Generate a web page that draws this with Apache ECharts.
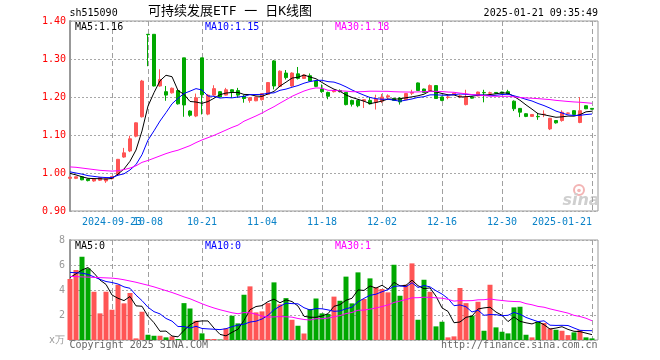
<!DOCTYPE html>
<html><head><meta charset="utf-8">
<script src="https://cdn.jsdelivr.net/npm/echarts@6/dist/echarts.min.js"></script>
<style>html,body{margin:0;padding:0;background:#fff}#c{width:660px;height:360px}</style>
</head><body><div id="c"></div>
<script>
// ---- data ----
const dates = ['2024-09-10','2024-09-11','2024-09-12','2024-09-13','2024-09-18','2024-09-19','2024-09-20','2024-09-23','2024-09-24','2024-09-25','2024-09-26','2024-09-27','2024-09-30',
'2024-10-08','2024-10-09','2024-10-10','2024-10-11','2024-10-14','2024-10-15','2024-10-16','2024-10-17','2024-10-18','2024-10-21','2024-10-22','2024-10-23','2024-10-24','2024-10-25','2024-10-28','2024-10-29','2024-10-30','2024-10-31',
'2024-11-01','2024-11-04','2024-11-05','2024-11-06','2024-11-07','2024-11-08','2024-11-11','2024-11-12','2024-11-13','2024-11-14','2024-11-15','2024-11-18','2024-11-19','2024-11-20','2024-11-21','2024-11-22','2024-11-25','2024-11-26','2024-11-27','2024-11-28','2024-11-29',
'2024-12-02','2024-12-03','2024-12-04','2024-12-05','2024-12-06','2024-12-09','2024-12-10','2024-12-11','2024-12-12','2024-12-13','2024-12-16','2024-12-17','2024-12-18','2024-12-19','2024-12-20','2024-12-23','2024-12-24','2024-12-25','2024-12-26','2024-12-27','2024-12-30','2024-12-31',
'2025-01-02','2025-01-03','2025-01-06','2025-01-07','2025-01-08','2025-01-09','2025-01-10','2025-01-13','2025-01-14','2025-01-15','2025-01-16','2025-01-17','2025-01-20','2025-01-21'];

const openP = [
0.986,0.986,0.990,0.984,0.979,0.981,0.979,0.985,0.996,1.042,
1.058,1.097,1.148,1.365,1.365,1.229,1.214,1.211,1.217,1.303,
1.163,1.150,1.303,1.155,1.205,1.214,1.205,1.219,1.217,1.202,
1.191,1.190,1.193,1.207,1.295,1.228,1.263,1.229,1.261,1.249,
1.256,1.242,1.221,1.212,1.214,1.217,1.212,1.191,1.191,1.190,
1.191,1.186,1.189,1.200,1.196,1.197,1.193,1.210,1.237,1.221,
1.216,1.230,1.200,1.199,1.207,1.201,1.180,1.200,1.203,1.212,
1.210,1.212,1.213,1.214,1.189,1.170,1.156,1.149,1.149,1.154,
1.116,1.138,1.138,1.157,1.164,1.133,1.177,1.170];
const closeP = [
0.989,0.990,0.982,0.980,0.985,0.988,0.985,0.991,1.036,1.053,
1.090,1.132,1.242,1.364,1.229,1.246,1.205,1.223,1.182,1.179,
1.152,1.198,1.206,1.205,1.222,1.200,1.219,1.214,1.205,1.196,
1.198,1.200,1.209,1.238,1.229,1.268,1.251,1.263,1.249,1.258,
1.242,1.228,1.214,1.202,1.217,1.214,1.180,1.181,1.177,1.193,
1.182,1.195,1.200,1.203,1.191,1.187,1.209,1.212,1.217,1.212,
1.230,1.196,1.191,1.200,1.210,1.203,1.200,1.197,1.213,1.211,
1.211,1.210,1.210,1.208,1.169,1.160,1.149,1.154,1.148,1.155,
1.144,1.132,1.160,1.158,1.154,1.164,1.169,1.168];
const lowP = [
0.984,0.984,0.981,0.978,0.977,0.979,0.974,0.983,0.994,1.040,
1.055,1.094,1.146,1.281,1.228,1.227,1.190,1.209,1.180,1.148,
1.148,1.147,1.154,1.152,1.203,1.199,1.204,1.198,1.198,1.185,
1.185,1.189,1.191,1.206,1.220,1.226,1.246,1.227,1.246,1.248,
1.241,1.226,1.211,1.194,1.212,1.212,1.178,1.175,1.173,1.171,
1.180,1.167,1.184,1.195,1.190,1.180,1.192,1.205,1.216,1.211,
1.215,1.195,1.189,1.194,1.206,1.197,1.178,1.196,1.202,1.186,
1.206,1.208,1.209,1.207,1.163,1.147,1.147,1.148,1.140,1.147,
1.113,1.130,1.135,1.156,1.153,1.131,1.168,1.167];
const highP = [
0.990,0.991,0.991,0.985,0.986,0.989,0.986,0.992,1.037,1.066,
1.098,1.133,1.245,1.365,1.365,1.273,1.229,1.225,1.219,1.303,
1.165,1.209,1.303,1.208,1.231,1.215,1.224,1.220,1.224,1.205,
1.200,1.201,1.210,1.239,1.297,1.270,1.271,1.265,1.279,1.260,
1.262,1.244,1.233,1.214,1.219,1.220,1.213,1.193,1.193,1.194,
1.200,1.206,1.208,1.207,1.198,1.200,1.210,1.219,1.238,1.222,
1.233,1.231,1.201,1.207,1.211,1.206,1.219,1.201,1.214,1.219,
1.214,1.213,1.214,1.219,1.191,1.171,1.157,1.155,1.158,1.165,
1.145,1.139,1.165,1.159,1.165,1.200,1.178,1.171];
// volume, unit: 万
const volume = [
4.88,5.60,6.66,5.73,3.86,2.13,3.86,2.42,4.42,2.93,
3.76,0.13,2.26,0.42,0.34,0.34,0.21,0.29,0.08,2.95,
2.52,1.54,0.53,0.08,0.08,0.03,0.93,1.94,1.33,3.62,
4.29,2.21,2.29,2.95,4.61,2.85,3.35,1.62,1.14,0.52,
2.48,3.32,2.13,2.08,3.47,3.14,5.07,2.93,5.41,3.28,
4.93,4.21,4.08,3.81,6.02,3.54,4.42,6.13,1.62,4.82,
3.86,1.09,1.46,0.21,0.29,4.16,2.95,1.94,3.06,0.74,
4.42,1.01,0.66,0.53,2.61,2.66,0.42,0.21,1.46,1.36,
0.93,0.82,0.74,0.39,0.61,0.80,0.21,0.13];

// moving-average values at the start of the window (history before the first bar)
const ma5Head  = [0.999,0.995,0.990,0.986];
const ma10Head = [1.003,1.000,0.997,0.993,0.991,0.989,0.988,0.988,0.994];
const ma30Head = [1.016,1.015,1.013,1.011,1.009,1.007,1.006,1.005,1.006,1.009,1.013,1.019,1.028,1.033,1.039,1.045,1.051,1.056,1.060,1.066,1.072,1.080,1.087,1.093,1.099,1.106,1.113,1.120,1.126];
const vma5Head  = [5.00,5.30,5.60,5.80];
const vma10Head = [5.41,5.38,5.35,5.25,5.05,4.85,4.68,4.60,4.48];
const vma30Head = [5.09,5.07,5.05,5.03,5.01,4.99,4.97,4.95,4.90,4.82,4.72,4.62,4.50,4.38,4.25,4.10,3.95,3.80,3.63,3.45,3.30,3.10,2.90,2.72,2.56,2.42,2.30,2.18,2.10];

const tickDates  = ['2024-09-23','2024-10-08','2024-10-21','2024-11-04','2024-11-18','2024-12-02','2024-12-16','2024-12-30','2025-01-21'];
const tickLabels = ['2024-09-23','10-08','10-21','11-04','11-18','12-02','12-16','12-30','2025-01-21'];
const priceTicks = [0.9, 1.4, 0.1];
const volTicks = [0, 8, 2];
const legendMain = ['MA5:1.16','MA10:1.15','MA30:1.18'];
const legendVol  = ['MA5:0','MA10:0','MA30:1'];

// ---- chart ----
const MONO = '"DejaVu Sans Mono", monospace';
const RED = '#ff5555', GREEN = '#00a800';
const DATECOL = '#0a82c8';
const cats = dates.concat(['']);

function movingAvg(vals, n, head) {
  return vals.map((v, i) => {
    if (i < n - 1) return head[i];
    let s = 0; for (let k = i - n + 1; k <= i; k++) s += vals[k];
    return +(s / n).toFixed(4);
  });
}
const isTick = (idx, val) => tickDates.indexOf(val) >= 0;
const isLaterTick = (idx, val) => tickDates.indexOf(val) > 0;
const isFirstTick = (idx, val) => val === tickDates[0];

const candleData = dates.map((d, i) => {
  const up = closeP[i] > openP[i];
  const c = up ? RED : GREEN;
  return { value: [openP[i], closeP[i], lowP[i], highP[i]],
           itemStyle: { color: c, color0: c, borderColor: c, borderColor0: c } };
});
const volData = dates.map((d, i) => ({ value: volume[i],
  itemStyle: { color: closeP[i] > openP[i] ? RED : GREEN } }));

function lineS(name, data, color, xi, yi) {
  return { name, type: 'line', data, xAxisIndex: xi, yAxisIndex: yi, symbol: 'none',
    lineStyle: { color, width: 1 }, silent: true, z: 3 };
}
function txt(text, x, y, align, color, font) {
  return { type: 'text', x, y, silent: true, z: 10,
    style: { text, fill: color, font, textAlign: align, textVerticalAlign: 'middle' } };
}

const splitX = { show: true, interval: isTick, lineStyle: { color: '#a0a0a0', type: [5, 3], width: 1 } };
const labelBase = { hideOverlap: false, color: DATECOL, fontSize: 10, fontFamily: MONO, margin: 5, lineHeight: 12 };
const option = {
  animation: false,
  backgroundColor: '#ffffff',
  textStyle: { fontFamily: MONO },
  grid: [
    { left: 70, right: 62, top: 21, height: 190, show: true, borderColor: '#999', borderWidth: 1, backgroundColor: 'rgba(0,0,0,0)', outerBoundsMode: 'none' },
    { left: 70, right: 62, top: 240, height: 100, show: true, borderColor: '#999', borderWidth: 1, backgroundColor: 'rgba(0,0,0,0)', outerBoundsMode: 'none' }
  ],
  xAxis: [
    { type: 'category', gridIndex: 0, data: cats, boundaryGap: false, position: 'bottom', offset: 0,
      axisLine: { show: false }, axisTick: { show: false },
      axisLabel: Object.assign({}, labelBase, { interval: isLaterTick,
        formatter: (v) => {
          const k = tickDates.indexOf(v);
          if (k <= 0) return '';
          if (k === tickDates.length - 1) return '{r|' + tickLabels[k] + '}';
          return tickLabels[k];
        },
        rich: { r: { color: DATECOL, fontSize: 10, fontFamily: MONO, lineHeight: 12, padding: [0, 60, 0, 0] } } }),
      splitLine: splitX },
    { type: 'category', gridIndex: 1, data: cats, boundaryGap: false,
      axisLine: { show: false }, axisTick: { show: false }, axisLabel: { show: false },
      splitLine: splitX },
    // second bottom axis of the price grid, carrying only the first (overlapping) date label
    { type: 'category', gridIndex: 0, data: cats, boundaryGap: false, position: 'bottom', offset: 0,
      axisLine: { show: false }, axisTick: { show: false }, splitLine: { show: false },
      axisLabel: Object.assign({}, labelBase, { interval: isFirstTick,
        formatter: (v) => v === tickDates[0] ? tickLabels[0] : '' }) }
  ],
  yAxis: [
    { type: 'value', gridIndex: 0, min: priceTicks[0], max: priceTicks[1], interval: priceTicks[2],
      axisLine: { show: true, lineStyle: { color: '#999', width: 2 } }, axisTick: { show: false },
      axisLabel: { color: '#ff0000', fontSize: 10, fontFamily: MONO, margin: 4, formatter: v => v.toFixed(2) },
      splitLine: { show: true, lineStyle: { color: '#a8a8a8', type: [2, 2], width: 1 } } },
    { type: 'value', gridIndex: 1, min: volTicks[0], max: volTicks[1], interval: volTicks[2],
      axisLine: { show: true, lineStyle: { color: '#999', width: 2 } }, axisTick: { show: false },
      axisLabel: { color: '#999', fontSize: 10, fontFamily: MONO, margin: 5, formatter: v => v === 0 ? 'x万' : String(v) },
      splitLine: { show: true, lineStyle: { color: '#a8a8a8', type: [2, 2], width: 1 } } }
  ],
  series: [
    { name: 'K', type: 'candlestick', xAxisIndex: 0, yAxisIndex: 0, data: candleData, barWidth: 4, z: 2,
      itemStyle: { borderWidth: 1 } },
    lineS('MA5', movingAvg(closeP, 5, ma5Head), '#000000', 0, 0),
    lineS('MA10', movingAvg(closeP, 10, ma10Head), '#0000ff', 0, 0),
    lineS('MA30', movingAvg(closeP, 30, ma30Head), '#ff00ff', 0, 0),
    { name: 'VOL', type: 'bar', xAxisIndex: 1, yAxisIndex: 1, data: volData, barWidth: 5, z: 2 },
    lineS('VMA5', movingAvg(volume, 5, vma5Head), '#000000', 1, 1),
    lineS('VMA10', movingAvg(volume, 10, vma10Head), '#0000ff', 1, 1),
    lineS('VMA30', movingAvg(volume, 30, vma30Head), '#ff00ff', 1, 1)
  ],
  graphic: [
    txt('sh515090', 69.5, 13, 'left', '#000', '10px ' + MONO),
    txt('可持续发展ETF 一 日K线图', 230, 12, 'center', '#000', '13px "DejaVu Sans Mono", "Noto Sans CJK SC"'),
    txt('2025-01-21 09:35:49', 598, 13, 'right', '#000', '10px ' + MONO),
    txt(legendMain[0], 75, 27, 'left', '#000000', '10px ' + MONO),
    txt(legendMain[1], 205, 27, 'left', '#0000ff', '10px ' + MONO),
    txt(legendMain[2], 335, 27, 'left', '#ff00ff', '10px ' + MONO),
    txt(legendVol[0], 75, 246, 'left', '#000000', '10px ' + MONO),
    txt(legendVol[1], 205, 246, 'left', '#0000ff', '10px ' + MONO),
    txt(legendVol[2], 335, 246, 'left', '#ff00ff', '10px ' + MONO),
    txt('Copyright 2025 SINA.COM', 69.5, 345.5, 'left', '#666', '10px ' + MONO),
    txt('http://finance.sina.com.cn', 597.5, 345.5, 'right', '#666', '10px ' + MONO),
    { type: 'circle', shape: { cx: 579, cy: 190, r: 5 }, silent: true, z: 0,
      style: { fill: 'none', stroke: '#f3b4b4', lineWidth: 2 } },
    { type: 'circle', shape: { cx: 579, cy: 190.5, r: 1.8 }, silent: true, z: 0,
      style: { fill: '#f3b4b4' } },
    { type: 'text', x: 581, y: 201, silent: true, z: 0,
      style: { text: 'sina', fill: '#cfcfcf', font: 'italic bold 16px "DejaVu Sans"', textAlign: 'center', textVerticalAlign: 'middle' } }
  ]
};
const chart = echarts.init(document.getElementById('c'), null, { renderer: 'canvas' });
chart.setOption(option);
</script>
</body></html>
